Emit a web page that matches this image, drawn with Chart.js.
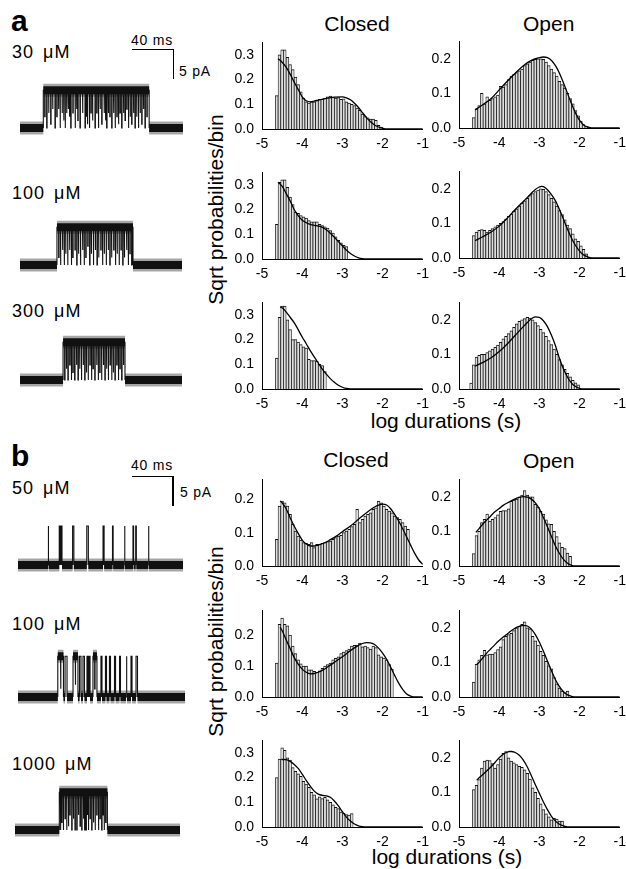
<!DOCTYPE html>
<html><head><meta charset="utf-8">
<script src="https://cdn.jsdelivr.net/npm/chart.js@4/dist/chart.umd.min.js"></script>
<style>
body{margin:0;background:#fff;}
#fig{position:relative;width:626px;height:869px;overflow:hidden;font-family:"Liberation Sans",Arial,sans-serif;color:#000;background:#fff;}
canvas{position:absolute;}
.t{position:absolute;white-space:nowrap;line-height:1;}
.bar{position:absolute;background:#000;}
</style></head><body><div id="fig"></div>
<script>
// ---------- tick labels ----------
const xTicks = [-5, -4, -3, -2, -1];
const yTicks3 = [0, 0.1, 0.2, 0.3];
const yTicks2 = [0, 0.1, 0.2];
const BIN = 1 / 15; // log-bin width

// ---------- panel a histograms (sqrt prob / bin) ----------
const closedA30 = [0.135,0.30,0.32,0.32,0.29,0.26,0.24,0.21,0.18,0.15,0.125,0.11,0.105,0.11,0.11,0.115,0.12,0.12,0.125,0.13,0.133,0.128,0.125,0.127,0.12,0.122,0.11,0.105,0.10,0.095,0.085,0.075,0.06,0.05,0.045,0.04,0.04,0.035,0.015,0.008];
const closedA30First = -4.633;
const fitClosedA30 = [[-4.6,0.284],[-4.5,0.27],[-4.4,0.25],[-4.3,0.222],[-4.2,0.19],[-4.1,0.16],[-4.0,0.13],[-3.9,0.114],[-3.8,0.11],[-3.7,0.113],[-3.6,0.117],[-3.4,0.124],[-3.2,0.129],[-3.0,0.13],[-2.9,0.126],[-2.8,0.118],[-2.7,0.104],[-2.6,0.087],[-2.5,0.066],[-2.4,0.046],[-2.3,0.029],[-2.2,0.016],[-2.1,0.008],[-2.0,0.003],[-1.9,0],[-1.0,0]];

const openA30 = [0.03,0.055,0.065,0.10,0.07,0.09,0.08,0.085,0.09,0.095,0.12,0.118,0.125,0.14,0.15,0.155,0.16,0.165,0.17,0.18,0.185,0.19,0.195,0.198,0.2,0.2,0.198,0.19,0.18,0.17,0.16,0.15,0.135,0.125,0.115,0.1,0.085,0.07,0.05,0.035,0.02,0.01,0.004];
const openA30First = -4.633;
const fitOpenA30 = [[-4.6,0.052],[-4.4,0.068],[-4.2,0.085],[-4.0,0.11],[-3.8,0.135],[-3.6,0.158],[-3.4,0.18],[-3.2,0.195],[-3.0,0.203],[-2.9,0.205],[-2.8,0.203],[-2.7,0.195],[-2.6,0.18],[-2.5,0.158],[-2.4,0.13],[-2.3,0.1],[-2.2,0.07],[-2.1,0.043],[-2.0,0.022],[-1.9,0.009],[-1.8,0.003],[-1.7,0],[-1.0,0]];

const closedA100 = [0.14,0.31,0.32,0.32,0.29,0.25,0.22,0.19,0.185,0.175,0.17,0.165,0.155,0.15,0.15,0.15,0.14,0.135,0.13,0.125,0.115,0.105,0.09,0.075,0.065,0.055,0.05];
const closedA100First = -4.633;
const fitClosedA100 = [[-4.6,0.31],[-4.5,0.295],[-4.4,0.265],[-4.3,0.235],[-4.2,0.2],[-4.1,0.175],[-4.0,0.157],[-3.9,0.147],[-3.8,0.14],[-3.7,0.136],[-3.6,0.133],[-3.5,0.128],[-3.4,0.118],[-3.3,0.104],[-3.2,0.088],[-3.1,0.07],[-3.0,0.053],[-2.9,0.036],[-2.8,0.022],[-2.7,0.012],[-2.6,0.005],[-2.5,0.001],[-2.4,0],[-1.0,0]];

const openA100 = [0.065,0.075,0.08,0.082,0.08,0.075,0.08,0.085,0.09,0.095,0.1,0.105,0.112,0.12,0.127,0.135,0.142,0.15,0.158,0.165,0.172,0.18,0.186,0.192,0.196,0.2,0.198,0.192,0.183,0.172,0.162,0.15,0.137,0.125,0.11,0.095,0.085,0.07,0.055,0.048,0.035,0.025,0.012];
const openA100First = -4.633;
const fitOpenA100 = [[-4.6,0.05],[-4.4,0.062],[-4.2,0.075],[-4.0,0.092],[-3.8,0.115],[-3.6,0.14],[-3.4,0.163],[-3.2,0.187],[-3.1,0.198],[-3.0,0.205],[-2.95,0.207],[-2.9,0.206],[-2.8,0.197],[-2.7,0.183],[-2.6,0.165],[-2.5,0.14],[-2.4,0.112],[-2.3,0.083],[-2.2,0.057],[-2.1,0.036],[-2.0,0.02],[-1.9,0.009],[-1.8,0.003],[-1.7,0],[-1.0,0]];

const closedA300 = [0.125,0.29,0.335,0.335,0.28,0.24,0.2,0.2,0.19,0.18,0.17,0.165,0.12,0.115,0.115,0.112,0.1,0.095,0.07];
const closedA300First = -4.633;
const fitClosedA300 = [[-4.55,0.332],[-4.5,0.328],[-4.4,0.312],[-4.3,0.29],[-4.2,0.268],[-4.1,0.24],[-4.0,0.21],[-3.9,0.183],[-3.8,0.155],[-3.7,0.13],[-3.6,0.105],[-3.5,0.08],[-3.4,0.06],[-3.3,0.042],[-3.2,0.027],[-3.1,0.015],[-3.0,0.007],[-2.9,0.002],[-2.8,0],[-1.0,0]];

const openA300 = [0.017,0.07,0.092,0.097,0.1,0.1,0.105,0.11,0.115,0.12,0.127,0.135,0.145,0.152,0.16,0.168,0.178,0.188,0.195,0.2,0.203,0.207,0.205,0.2,0.192,0.183,0.172,0.163,0.152,0.14,0.128,0.115,0.1,0.085,0.07,0.057,0.045,0.035,0.025,0.018,0.012];
const openA300First = -4.7;
const fitOpenA300 = [[-4.6,0.066],[-4.4,0.077],[-4.2,0.09],[-4.0,0.108],[-3.8,0.13],[-3.6,0.155],[-3.4,0.18],[-3.3,0.192],[-3.2,0.203],[-3.1,0.208],[-3.0,0.207],[-2.9,0.197],[-2.8,0.18],[-2.7,0.155],[-2.6,0.125],[-2.5,0.088],[-2.4,0.058],[-2.3,0.034],[-2.2,0.017],[-2.1,0.007],[-2.0,0.002],[-1.9,0],[-1.0,0]];

// ---------- panel b histograms ----------
const closedB50 = [0.08,0.18,0.195,0.19,0.18,0.155,0.125,0.105,0.09,0.078,0.07,0.068,0.065,0.07,0.055,0.065,0.065,0.068,0.07,0.073,0.075,0.08,0.085,0.09,0.092,0.1,0.105,0.11,0.118,0.125,0.17,0.13,0.14,0.15,0.155,0.16,0.17,0.175,0.195,0.19,0.18,0.17,0.165,0.16,0.15,0.145,0.14,0.13,0.12,0.11];
const closedB50First = -4.633;
const fitClosedB50 = [[-4.55,0.195],[-4.5,0.19],[-4.4,0.172],[-4.3,0.145],[-4.2,0.12],[-4.1,0.098],[-4.0,0.078],[-3.9,0.066],[-3.8,0.06],[-3.7,0.06],[-3.6,0.063],[-3.5,0.067],[-3.4,0.072],[-3.3,0.079],[-3.2,0.086],[-3.1,0.094],[-3.0,0.103],[-2.8,0.12],[-2.6,0.14],[-2.4,0.16],[-2.2,0.177],[-2.1,0.183],[-2.0,0.186],[-1.9,0.183],[-1.8,0.172],[-1.7,0.155],[-1.6,0.135],[-1.5,0.112],[-1.4,0.087],[-1.3,0.062],[-1.2,0.038],[-1.1,0.018],[-1.0,0.005]];

const openB50 = [0.036,0.088,0.1,0.125,0.135,0.15,0.13,0.135,0.14,0.148,0.158,0.16,0.16,0.165,0.187,0.19,0.193,0.2,0.205,0.218,0.205,0.2,0.2,0.178,0.17,0.158,0.15,0.133,0.122,0.12,0.1,0.085,0.067,0.054,0.05,0.037,0.028];
const openB50First = -4.633;
const fitOpenB50 = [[-4.58,0.097],[-4.5,0.108],[-4.4,0.122],[-4.3,0.134],[-4.2,0.146],[-4.1,0.157],[-4.0,0.166],[-3.9,0.175],[-3.8,0.182],[-3.7,0.188],[-3.6,0.194],[-3.5,0.198],[-3.4,0.2],[-3.3,0.199],[-3.2,0.193],[-3.1,0.182],[-3.0,0.165],[-2.9,0.14],[-2.8,0.113],[-2.7,0.085],[-2.6,0.058],[-2.5,0.036],[-2.4,0.019],[-2.3,0.008],[-2.2,0.002],[-2.1,0],[-1.0,0]];

const closedB100 = [0.11,0.235,0.255,0.235,0.23,0.2,0.165,0.14,0.12,0.107,0.1,0.1,0.088,0.088,0.083,0.08,0.085,0.093,0.1,0.105,0.11,0.12,0.125,0.13,0.14,0.145,0.15,0.155,0.165,0.167,0.168,0.174,0.162,0.165,0.16,0.155,0.165,0.16,0.136,0.13,0.126,0.12,0.105,0.09];
const closedB100First = -4.633;
const fitClosedB100 = [[-4.55,0.225],[-4.5,0.215],[-4.4,0.185],[-4.3,0.157],[-4.2,0.128],[-4.1,0.106],[-4.0,0.09],[-3.9,0.08],[-3.8,0.075],[-3.7,0.076],[-3.6,0.08],[-3.5,0.086],[-3.4,0.094],[-3.3,0.103],[-3.2,0.112],[-3.0,0.13],[-2.8,0.15],[-2.6,0.167],[-2.5,0.173],[-2.4,0.176],[-2.3,0.175],[-2.2,0.17],[-2.1,0.158],[-2.0,0.142],[-1.9,0.122],[-1.8,0.097],[-1.7,0.07],[-1.6,0.045],[-1.5,0.025],[-1.4,0.01],[-1.3,0.003],[-1.2,0],[-1.0,0]];

const openB100 = [0.043,0.094,0.107,0.12,0.135,0.122,0.124,0.124,0.128,0.137,0.145,0.166,0.175,0.18,0.184,0.192,0.2,0.205,0.21,0.217,0.2,0.197,0.175,0.162,0.15,0.132,0.12,0.103,0.09,0.081,0.056,0.038,0.026,0.017,0.013,0.017];
const openB100First = -4.633;
const fitOpenB100 = [[-4.56,0.094],[-4.5,0.1],[-4.4,0.114],[-4.3,0.128],[-4.2,0.14],[-4.1,0.152],[-4.0,0.163],[-3.9,0.173],[-3.8,0.182],[-3.7,0.191],[-3.6,0.199],[-3.5,0.204],[-3.4,0.207],[-3.3,0.205],[-3.2,0.196],[-3.1,0.18],[-3.0,0.158],[-2.9,0.132],[-2.8,0.104],[-2.7,0.076],[-2.6,0.05],[-2.5,0.03],[-2.4,0.015],[-2.3,0.006],[-2.2,0.002],[-2.1,0],[-1.0,0]];

const closedB1000 = [0.2,0.275,0.32,0.31,0.28,0.27,0.24,0.225,0.215,0.205,0.185,0.173,0.16,0.14,0.13,0.114,0.122,0.115,0.12,0.11,0.1,0.09,0.08,0.074,0.06,0.055,0.05,0.048,0.054];
const closedB1000First = -4.633;
const fitClosedB1000 = [[-4.52,0.273],[-4.4,0.272],[-4.3,0.265],[-4.2,0.253],[-4.1,0.237],[-4.0,0.214],[-3.9,0.188],[-3.8,0.165],[-3.7,0.145],[-3.6,0.133],[-3.5,0.128],[-3.4,0.126],[-3.3,0.12],[-3.2,0.105],[-3.1,0.085],[-3.0,0.062],[-2.9,0.04],[-2.8,0.024],[-2.7,0.012],[-2.6,0.005],[-2.5,0.001],[-2.4,0],[-1.0,0]];

const openB1000 = [0.108,0.12,0.137,0.17,0.19,0.193,0.192,0.183,0.17,0.18,0.196,0.213,0.218,0.2,0.19,0.185,0.18,0.175,0.172,0.165,0.155,0.138,0.113,0.1,0.083,0.067,0.05,0.038,0.029,0.021,0.025,0.023,0.017,0.017];
const openB1000First = -4.633;
const fitOpenB1000 = [[-4.56,0.135],[-4.5,0.142],[-4.4,0.152],[-4.3,0.163],[-4.2,0.174],[-4.1,0.187],[-4.0,0.2],[-3.9,0.21],[-3.8,0.216],[-3.75,0.218],[-3.7,0.218],[-3.6,0.215],[-3.5,0.207],[-3.4,0.193],[-3.3,0.173],[-3.2,0.148],[-3.1,0.122],[-3.0,0.097],[-2.9,0.072],[-2.8,0.05],[-2.7,0.031],[-2.6,0.017],[-2.5,0.008],[-2.4,0.003],[-2.3,0],[-1.0,0]];

// ---------- single-channel traces (ms, pA) ----------
// open intervals [start, end] in ms; closures [time ms, fractional depth]
const traceA30Open = [[22.2, 123]];
const traceA30Closures = [[23.5,0.7],[25.4,1],[27.2,0.6],[29.2,0.9],[31,0.5],[33.3,1],[35,0.7],[36.6,0.5],[38.1,1],[40,0.6],[41.5,0.8],[42.9,1],[44.3,0.6],[45.8,0.5],[47,0.7],[48.3,1],[50.3,0.6],[52.4,1],[53.8,0.5],[55,0.8],[57.1,1],[59.5,0.6],[61.9,1],[63,0.7],[64.1,0.9],[66,1],[67.5,0.6],[69,0.8],[71.4,1],[73,0.6],[74.6,1],[76.2,0.5],[77.8,0.9],[80,0.6],[81.3,0.8],[82.5,1],[84,0.6],[85.5,0.7],[87.3,1],[89,0.6],[90.5,1],[92.2,0.7],[93.7,0.9],[95.2,0.6],[96.8,1],[98.5,0.6],[100,0.8],[101.6,0.5],[103.2,1],[104.8,0.7],[106.3,0.9],[108,0.6],[109.5,1],[111,0.7],[112.7,1],[114.3,0.6],[115.9,0.9],[117.5,0.5],[119,1],[120.8,0.7]];
const traceA100Open = [[35.2, 107.6]];
const traceA100Closures = [[36.8,0.8],[38.5,1],[40.4,0.6],[42,1],[43.4,0.7],[45.3,1],[47.1,0.6],[48.8,1],[50.2,0.8],[52.3,0.6],[54,1],[55.6,0.7],[57.5,1],[59.5,0.6],[61,1],[62.6,0.8],[64.5,0.5],[66.3,1],[67.8,0.7],[69.8,1],[71.6,0.6],[73.3,1],[74.8,0.8],[76.9,0.6],[78.5,1],[80.1,0.7],[82,1],[83.9,0.6],[85.5,1],[87.1,0.8],[89.2,0.6],[90.8,1],[92.4,0.7],[94.3,1],[96.1,0.6],[97.8,1],[99.3,0.8],[101.4,0.6],[103,1],[104.6,0.7],[106.3,1]];
const traceA300Open = [[41, 100]];
const traceA300Closures = [[42.5,1],[44.1,0.7],[45.6,1],[47.3,0.6],[48.8,1],[50.3,0.8],[52,1],[53.7,0.6],[55.2,1],[56.7,0.7],[58.4,1],[60.1,0.6],[61.6,1],[63.1,0.8],[64.8,1],[66.5,0.6],[68,1],[69.5,0.7],[71.2,1],[72.9,0.6],[74.4,1],[75.9,0.8],[77.6,1],[79.3,0.6],[80.8,1],[82.3,0.7],[84,1],[85.7,0.6],[87.2,1],[88.7,0.8],[90.4,1],[92.1,0.6],[93.6,1],[95.1,0.7],[96.8,1],[98.4,0.6]];
const traceB50Open = [[28.6,29.2],[39.3,40.3],[40.9,41.9],[52,53.2],[65.5,67],[81,82],[90,90.6],[101.3,101.9],[109.5,110.1],[112.1,112.7],[124.1,124.7]];
const traceB50Closures = [];
const traceB100Open = [[37.9,43.3],[44.8,46.7],[52.4,57.1],[58.6,60],[61.9,63.3],[65.7,66.7],[67.6,68.6],[71.4,75.2],[79,80],[83.3,84.3],[87.1,88.1],[91.9,92.9],[96.7,97.6],[102.9,103.8],[107.6,108.6],[112.4,113.8]];
const traceB100Closures = [[40.5,0.8],[54.5,0.7],[73,0.8]];
const traceB1000Open = [[42.2, 88]];
const traceB1000Closures = [[43.2,1],[44.4,0.8],[45.9,1],[47.6,0.7],[49.1,1],[50.8,0.9],[52.2,0.6],[54,1],[55.5,0.7],[57.1,1],[58.8,1],[60.3,0.6],[61.9,0.9],[63.5,1],[65.1,0.7],[66.3,1],[67.6,1],[68.8,0.6],[69.8,1],[71.4,0.7],[73,1],[74.6,0.8],[76.2,1],[77.8,0.6],[79.4,1],[80.9,0.7],[82.5,1],[83.7,0.6],[84.8,1],[86.3,0.8]];
const scaleBarMs = 40, scaleBarPA = 5;

// ---------- helpers ----------
const fig = document.getElementById('fig');
const FONT = '"Liberation Sans", Arial, sans-serif';
function txt(s, x, base, size, opt) {
  opt = opt || {};
  const d = document.createElement('div');
  d.className = 't';
  d.textContent = s;
  d.style.fontSize = size + 'px';
  d.style.top = (base - 0.8465 * size) + 'px';
  if (opt.bold) d.style.fontWeight = 'bold';
  if (opt.ls) d.style.letterSpacing = opt.ls + 'px';
  if (opt.ws) d.style.wordSpacing = opt.ws + 'px';
  d.style.left = x + 'px';
  if (opt.center) d.style.transform = 'translateX(-50%)';
  fig.appendChild(d);
  return d;
}
function vtxt(s, cx, cy, size) {
  const d = document.createElement('div');
  d.className = 't';
  d.textContent = s;
  d.style.fontSize = size + 'px';
  d.style.width = '300px';
  d.style.textAlign = 'center';
  d.style.height = size + 'px';
  d.style.left = (cx - 150) + 'px';
  d.style.top = (cy - size / 2) + 'px';
  d.style.transform = 'rotate(-90deg)';
  fig.appendChild(d);
}
function rect(x, y, w, h) {
  const d = document.createElement('div');
  d.className = 'bar';
  d.style.left = x + 'px'; d.style.top = y + 'px';
  d.style.width = w + 'px'; d.style.height = h + 'px';
  fig.appendChild(d);
}
function mkCanvas(left, top, w, h) {
  const c = document.createElement('canvas');
  c.width = w; c.height = h;
  c.style.left = left + 'px'; c.style.top = top + 'px';
  c.style.width = w + 'px'; c.style.height = h + 'px';
  fig.appendChild(c);
  return c;
}

const YW = 40, PT = 6, PR = 12, XH = 24, PH = 97, PW = 162;
function hist(bars, first, fit, axisX, zeroY, ymax, yTicks) {
  const c = mkCanvas(axisX - YW, zeroY - PH - PT, YW + PW + PR, PT + PH + XH);
  const tickFont = {family: FONT, size: 14};
  new Chart(c, {
    type: 'bar',
    data: {datasets: [
      {type: 'line', data: fit.map(p => ({x: p[0], y: p[1]})), borderColor: '#000', borderWidth: 1.3,
       pointRadius: 0, cubicInterpolationMode: 'monotone', fill: false},
      {type: 'bar', data: bars.map((v, i) => ({x: first + i * BIN, y: v})), backgroundColor: '#dedede',
       borderColor: '#111', borderWidth: {top: 1, left: 0.75, right: 0.75, bottom: 0},
       barPercentage: 1, categoryPercentage: 1}
    ]},
    options: {
      responsive: false, animation: false, devicePixelRatio: 1, events: [],
      layout: {padding: {top: PT, right: PR, left: 0, bottom: 0}},
      plugins: {legend: {display: false}, tooltip: {enabled: false}},
      scales: {
        x: {type: 'linear', min: -5, max: -1, offset: false,
            grid: {display: false, drawTicks: false}, border: {display: true, color: '#000', width: 1},
            ticks: {color: '#000', font: tickFont, padding: 7, maxRotation: 0, autoSkip: false, callback: v => String(v)},
            afterBuildTicks: s => { s.ticks = xTicks.map(v => ({value: v})); },
            afterFit: s => { s.height = XH; }},
        y: {min: 0, max: ymax,
            grid: {display: false, drawTicks: false}, border: {display: true, color: '#000', width: 1},
            ticks: {color: '#000', font: tickFont, padding: 8, autoSkip: false, callback: v => v.toFixed(1)},
            afterBuildTicks: s => { s.ticks = yTicks.map(v => ({value: v})); },
            afterFit: s => { s.width = YW; }}
      }
    }
  });
}

const PX_PER_MS = 1.05, PX_PER_PA = 6, CLOSURE_MS = 0.4, LONG_OPEN_MS = 3;
function trace(left, right, baseY, amp, opens, closures) {
  const dur = (right - left) / PX_PER_MS;
  const above = 55, below = 15;
  const c = mkCanvas(left, baseY - above, right - left, above + below);
  const band = [];
  const seg = (a, b, y) => { band.push({x: a, y: y}, {x: b, y: y}, {x: b, y: null}); };
  let t = 0;
  opens.forEach(o => {
    seg(t, o[0], 0);
    if (o[1] - o[0] >= LONG_OPEN_MS) seg(o[0], o[1], amp);
    t = o[1];
  });
  seg(t, dur, 0);
  const thin = [];
  opens.forEach(o => {
    thin.push({x: o[0], y: 0}, {x: o[0], y: amp}, {x: o[1], y: amp}, {x: o[1], y: 0}, {x: o[1], y: null});
  });
  closures.forEach(cl => {
    const lv = amp * (1 - cl[1]);
    thin.push({x: cl[0], y: amp}, {x: cl[0], y: lv}, {x: cl[0] + CLOSURE_MS, y: lv}, {x: cl[0] + CLOSURE_MS, y: amp}, {x: cl[0] + CLOSURE_MS, y: null});
  });
  new Chart(c, {
    type: 'line',
    data: {datasets: [
      {data: thin, borderColor: '#111', borderWidth: 1.1, pointRadius: 0, tension: 0, spanGaps: false},
      {data: band, borderColor: '#111', borderWidth: 8, pointRadius: 0, tension: 0, spanGaps: false},
      {data: band, borderColor: 'rgba(0,0,0,0.35)', borderWidth: 13, pointRadius: 0, tension: 0, spanGaps: false}
    ]},
    options: {
      responsive: false, animation: false, devicePixelRatio: 1, events: [],
      layout: {padding: 0},
      plugins: {legend: {display: false}, tooltip: {enabled: false}},
      scales: {
        x: {type: 'linear', display: false, min: 0, max: dur},
        y: {display: false, min: -below / PX_PER_PA, max: above / PX_PER_PA}
      }
    }
  });
}

// ---------- panel a ----------
txt('a', 11, 31.5, 30, {bold: true});
txt('30 \u03bcM', 12, 58, 18, {ls: 1, ws: 3});
txt('100 \u03bcM', 12, 199.5, 18, {ls: 1, ws: 3});
txt('300 \u03bcM', 12, 317, 18, {ls: 1, ws: 3});
rect(132, 48.5, scaleBarMs * PX_PER_MS, 1.5);
rect(172.5, 48.5, 1.5, scaleBarPA * PX_PER_PA);
txt('40 ms', 152, 45, 14, {center: true, ls: 0.8});
txt('5 pA', 179, 76, 14, {ls: 0.8});

trace(20, 183, 128, 6.3, traceA30Open, traceA30Closures);
trace(20, 182, 265, 6.3, traceA100Open, traceA100Closures);
trace(20, 182, 380, 6.3, traceA300Open, traceA300Closures);

txt('Closed', 357, 31, 21, {center: true});
txt('Open', 548.7, 31, 21, {center: true});
vtxt('Sqrt probabilities/bin', 214.5, 209, 21);
txt('log durations (s)', 446, 428, 21, {center: true});

hist(closedA30, closedA30First, fitClosedA30, 262, 129, 0.35, yTicks3);
hist(openA30, openA30First, fitOpenA30, 459, 128, 0.25, yTicks2);
hist(closedA100, closedA100First, fitClosedA100, 262, 259, 0.35, yTicks3);
hist(openA100, openA100First, fitOpenA100, 459, 258, 0.25, yTicks2);
hist(closedA300, closedA300First, fitClosedA300, 262, 389, 0.35, yTicks3);
hist(openA300, openA300First, fitOpenA300, 459, 389, 0.25, yTicks2);

// ---------- panel b ----------
txt('b', 11, 466.5, 30, {bold: true});
txt('50 \u03bcM', 12, 494, 18, {ls: 1, ws: 3});
txt('100 \u03bcM', 12, 630, 18, {ls: 1, ws: 3});
txt('1000 \u03bcM', 12, 770, 18, {ls: 1, ws: 3});
rect(132, 475.5, scaleBarMs * PX_PER_MS, 1.5);
rect(172, 475.5, 1.5, scaleBarPA * PX_PER_PA);
txt('40 ms', 152, 470, 14, {center: true, ls: 0.8});
txt('5 pA', 180, 497, 14, {ls: 0.8});

trace(18, 183, 565, 6.5, traceB50Open, traceB50Closures);
trace(18, 185, 697, 6.8, traceB100Open, traceB100Closures);
trace(15, 180, 830, 6.3, traceB1000Open, traceB1000Closures);

txt('Closed', 356, 466.5, 21, {center: true});
txt('Open', 548.7, 467.5, 21, {center: true});
vtxt('Sqrt probabilities/bin', 214.5, 641, 21);
txt('log durations (s)', 447, 864, 21, {center: true});

hist(closedB50, closedB50First, fitClosedB50, 262, 566, 0.26, yTicks2);
hist(openB50, openB50First, fitOpenB50, 459, 566, 0.25, yTicks2);
hist(closedB100, closedB100First, fitClosedB100, 262, 697, 0.28, yTicks2);
hist(openB100, openB100First, fitOpenB100, 459, 697, 0.25, yTicks2);
hist(closedB1000, closedB1000First, fitClosedB1000, 262, 827, 0.35, yTicks3);
hist(openB1000, openB1000First, fitOpenB1000, 459, 827, 0.25, yTicks2);
</script></body></html>
